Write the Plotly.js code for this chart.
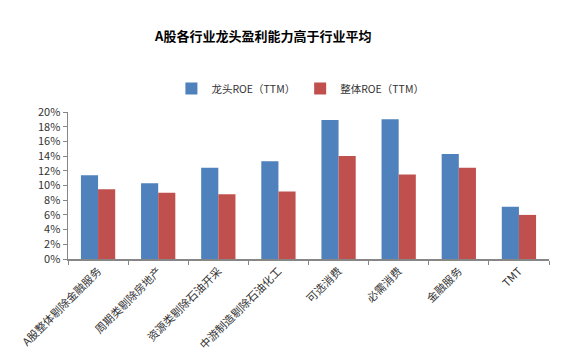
<!DOCTYPE html>
<html>
<head>
<meta charset="utf-8">
<script src="https://cdn.plot.ly/plotly-3.0.1.min.js"></script>
<style>html,body{margin:0;padding:0;background:#fff;}#chart{width:565px;height:361px;}</style>
</head>
<body>
<div id="chart"></div>
<script>
const categories = ["A股整体剔除金融服务", "周期类剔除房地产", "资源类剔除石油开采", "中游制造剔除石油化工", "可选消费", "必需消费", "金融服务", "TMT"];
const leaderROE = [0.114, 0.103, 0.124, 0.133, 0.189, 0.190, 0.143, 0.071];
const overallROE = [0.095, 0.090, 0.088, 0.092, 0.140, 0.115, 0.124, 0.060];
const seriesNames = ["龙头ROE（TTM）", "整体ROE（TTM）"];
const yTickVals = [0, 0.02, 0.04, 0.06, 0.08, 0.10, 0.12, 0.14, 0.16, 0.18, 0.20];

const font = "'Noto Sans CJK SC', 'Microsoft YaHei', sans-serif";
const data = [
  {type: "bar", x: categories, y: leaderROE, name: seriesNames[0], marker: {color: "#4F81BD"}},
  {type: "bar", x: categories, y: overallROE, name: seriesNames[1], marker: {color: "#C0504D"}}
];
const layout = {
  width: 565, height: 361,
  margin: {l: 68, r: 16, t: 112, b: 102},
  paper_bgcolor: "#fff", plot_bgcolor: "#fff",
  font: {family: font, size: 11, color: "#333"},
  title: {text: "<b>A股各行业龙头盈利能力高于行业平均</b>", x: 0.466, xanchor: "center", y: 0.9, yanchor: "middle", font: {family: font, size: 13, color: "#000"}},
  barmode: "group",
  bargap: 0.43,
  bargroupgap: 0,
  showlegend: true,
  legend: {orientation: "h", x: 0.215, xanchor: "left", y: 1.16, yanchor: "middle", font: {size: 10.5, color: "#333"}, itemwidth: 30, tracegroupgap: 0, bgcolor: "rgba(0,0,0,0)"},
  xaxis: {
    type: "category", showgrid: false, showline: true, linecolor: "#868686", linewidth: 1.5,
    ticks: "outside", tickson: "boundaries", ticklen: 4, tickcolor: "#868686",
    tickangle: -45, tickfont: {size: 11, color: "#333"}, zeroline: false, fixedrange: true
  },
  yaxis: {
    range: [0, 0.2], tickvals: yTickVals, tickformat: ".0%", showgrid: false,
    showline: true, linecolor: "#868686", linewidth: 1.5, ticks: "outside", ticklen: 4, tickcolor: "#868686",
    tickfont: {size: 11, color: "#333"}, zeroline: false, fixedrange: true
  }
};
Plotly.newPlot("chart", data, layout, {displayModeBar: false, staticPlot: true});
</script>
</body>
</html>
